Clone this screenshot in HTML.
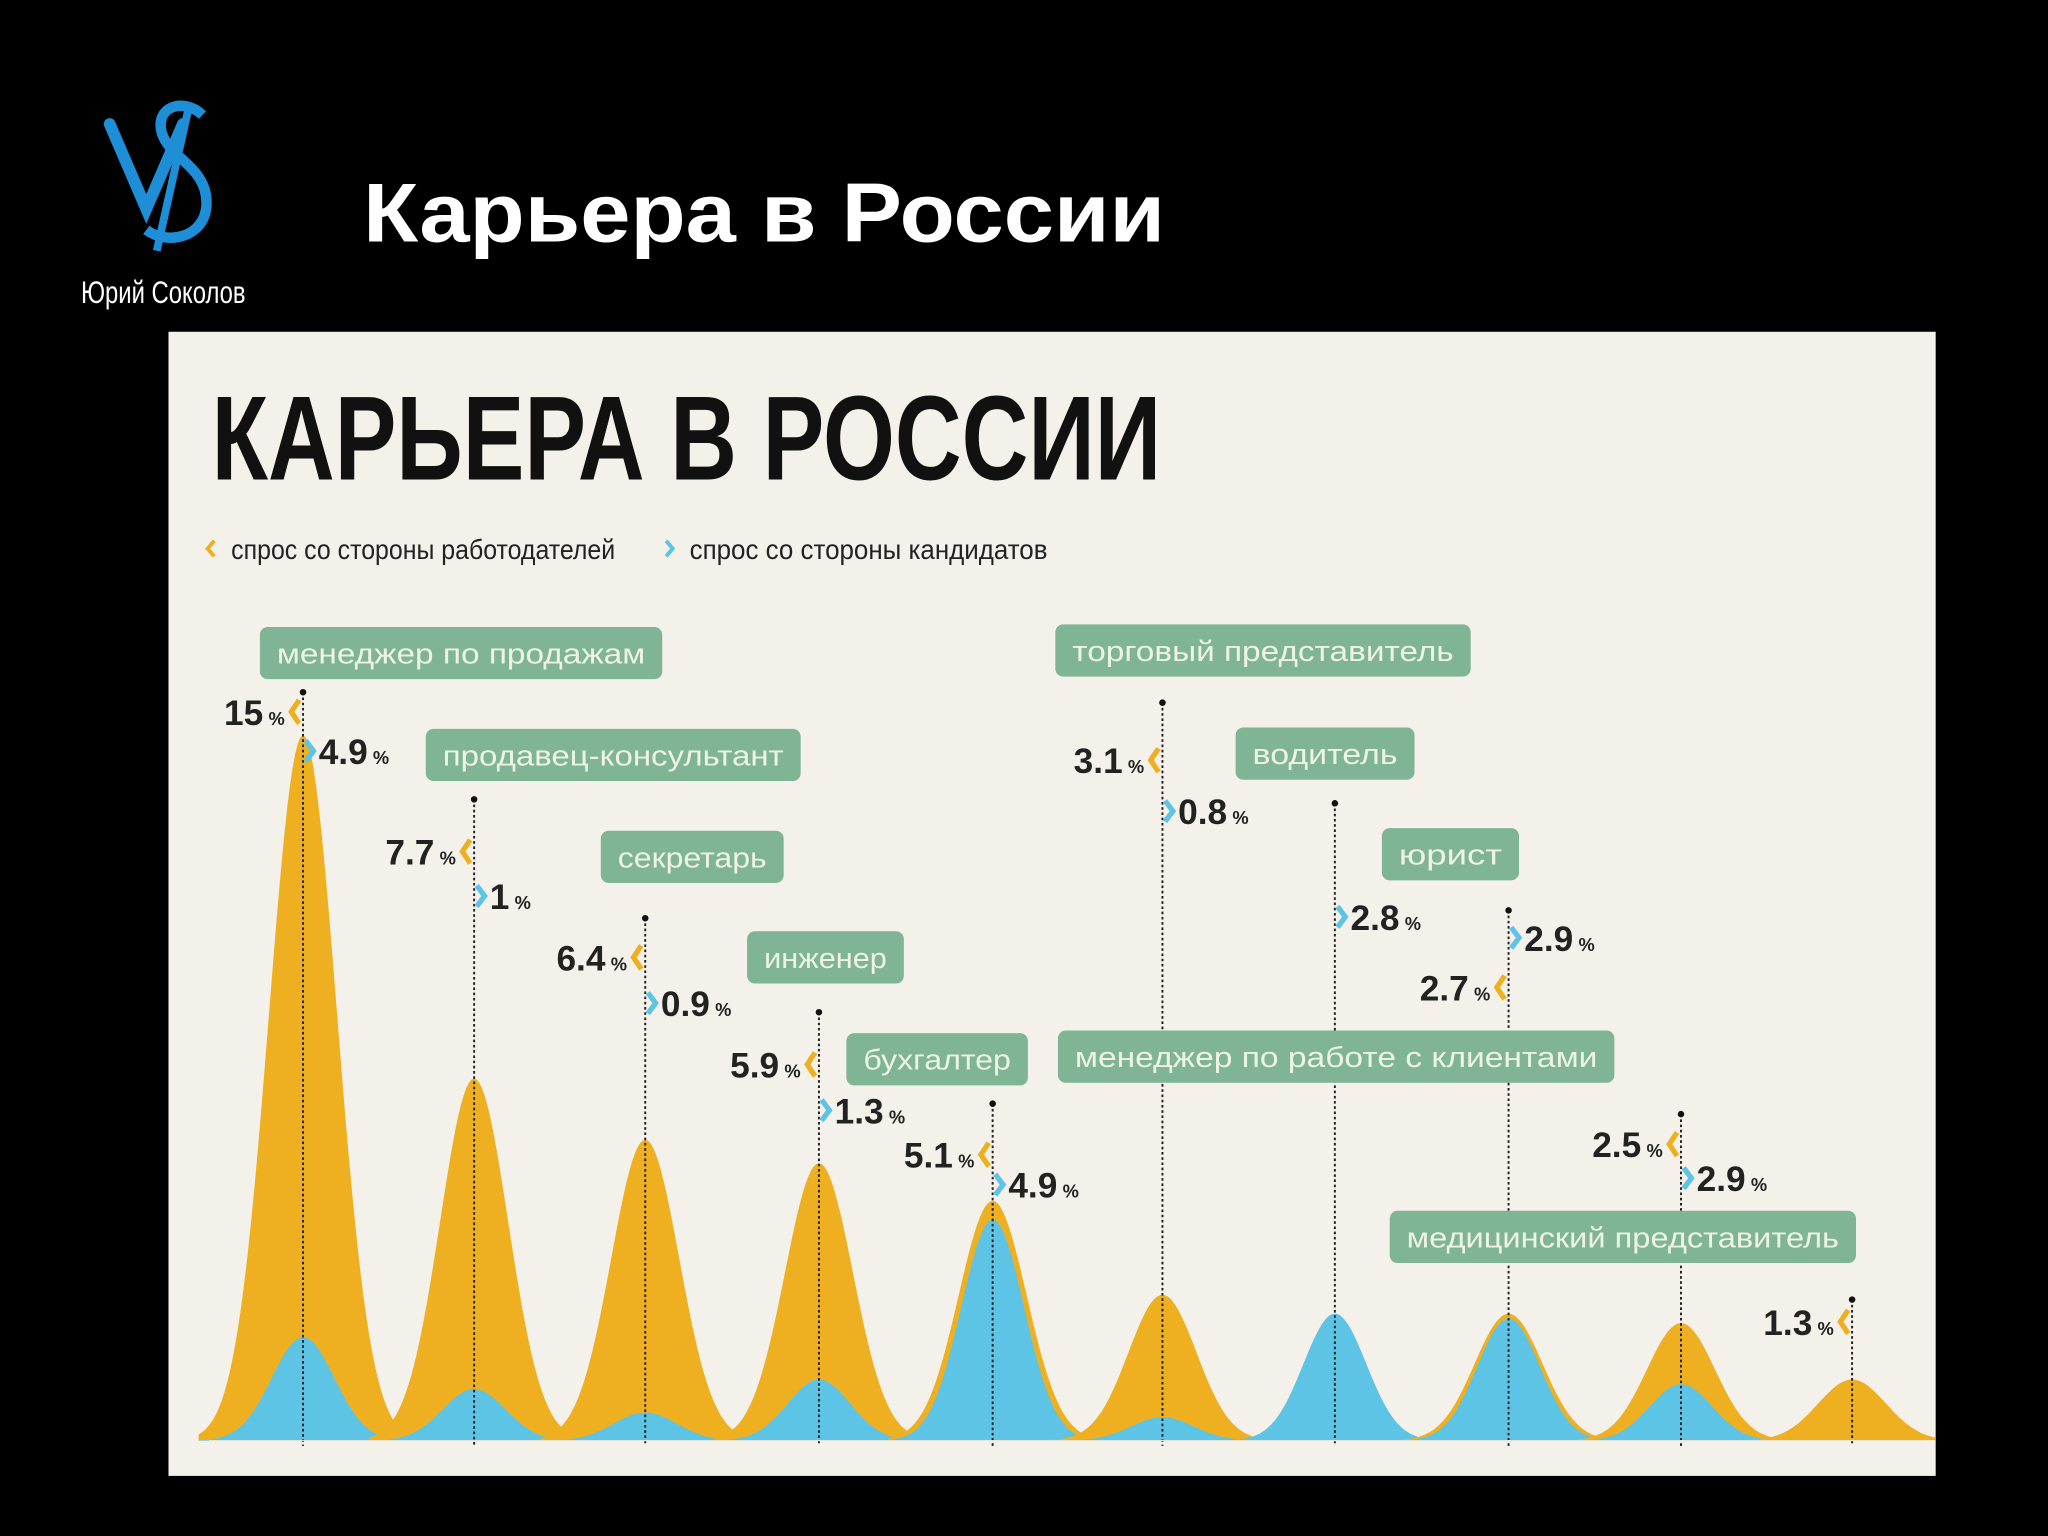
<!DOCTYPE html>
<html><head><meta charset="utf-8">
<style>
html,body{margin:0;padding:0;background:#000;}
svg{display:block;}
text{font-family:"Liberation Sans","DejaVu Sans",sans-serif;}
</style></head>
<body>
<svg id="root" width="2048" height="1536" viewBox="0 0 1568 1176" xmlns="http://www.w3.org/2000/svg">
  <defs><clipPath id="panelClip"><rect x="129" y="254" width="1353" height="876"/></clipPath></defs>
  <rect width="1568" height="1176" fill="#000"/>
  <g>
    <path d="M84 95 L112 160 L140 95" fill="none" stroke="#1e8fd6" stroke-width="9" stroke-linecap="round"/>
    <path d="M155 88 C140 74 118 82 124 102 C130 122 160 128 158 158 C156 182 128 188 112 176" fill="none" stroke="#1e8fd6" stroke-width="8"/>
    <path d="M145 80 L120 192" stroke="#1e8fd6" stroke-width="6"/>
    <text x="62" y="232" font-size="24" fill="#fff" textLength="126" lengthAdjust="spacingAndGlyphs">Юрий Соколов</text>
  </g>
  <text x="278" y="185" font-size="64" font-weight="bold" fill="#fff" textLength="614" lengthAdjust="spacingAndGlyphs">Карьера в России</text>
  <rect x="129" y="254" width="1353" height="876" fill="#f3f1ea"/>
  <text x="162" y="367" font-size="92" font-weight="bold" fill="#111" textLength="727" lengthAdjust="spacingAndGlyphs">КАРЬЕРА В РОССИИ</text>
  <g>
    <path d="M164 414 L159 420 L164 426" fill="none" stroke="#eeb021" stroke-width="3"/>
    <text x="177" y="428" font-size="21" fill="#222" textLength="294" lengthAdjust="spacingAndGlyphs">спрос со стороны работодателей</text>
    <path d="M510 414 L515 420 L510 426" fill="none" stroke="#5ec4e6" stroke-width="3"/>
    <text x="528" y="428" font-size="21" fill="#222" textLength="274" lengthAdjust="spacingAndGlyphs">спрос со стороны  кандидатов</text>
  </g>
  <g id="chart" clip-path="url(#panelClip)"></g>
</svg>
<script>
// ---- data ----
const categories = ["менеджер по продажам","продавец-консультант","секретарь","инженер","бухгалтер","торговый представитель","водитель","юрист","менеджер по работе с клиентами","медицинский представитель"];
const employerDemand = [15, 7.7, 6.4, 5.9, 5.1, 3.1, 0, 2.7, 2.5, 1.3];
const candidateDemand = [4.9, 1, 0.9, 1.3, 4.9, 0.8, 2.8, 2.9, 2.9, 0];
const candidateShape = [2.2, 1.1, 0.6, 1.3, 4.7, 0.5, 2.7, 2.6, 1.2, 0];
const employerLabels = ["15","7.7","6.4","5.9","5.1","3.1","","2.7","2.5","1.3"];
const candidateLabels = ["4.9","1","0.9","1.3","4.9","0.8","2.8","2.9","2.9",""];
// ---- layout ----
const peakX = [232,363,494,627,760,890,1022,1155,1287,1418];
const poleTop = [530,612,703,775,845,538,615,697,853,995];
const empLabelY = [545,652,733,815,884,582,0,756,876,1012];
const candLabelY = [575,686,768,850,907,621,702,718,902,0];
const tagBoxes = [[199,480,308],[326,558,287],[460,636,140],[572,713,120],[648,791,139],[808,478,318],[946,557,137],[1058,634,105],[810,789,426],[1064,927,357]];
const BASE = 1103, UNIT = 36, SIG = 25;
const y = v => BASE - v * UNIT;
const NS = "http://www.w3.org/2000/svg";
const chart = document.getElementById("chart");
function mk(tag, attrs, parent){const e=document.createElementNS(NS,tag);for(const k in attrs)e.setAttribute(k,attrs[k]);(parent||chart).appendChild(e);return e;}
function bell(cx, v, s){
  const h = BASE - y(v);
  let d = "M"+(cx-80)+" "+BASE;
  for(let dx=-80; dx<=80; dx+=2){ d += " L"+(cx+dx)+" "+(BASE - h*Math.exp(-dx*dx/(2*s*s))).toFixed(1); }
  return d + " Z";
}
categories.forEach((c,i)=>{
  const cx = peakX[i];
  if(employerDemand[i]>0){
    const p = mk("path",{d:bell(cx,employerDemand[i],SIG+1),fill:"#eeb021"});
    
    
  }
  if(candidateShape[i]>0){
    const p = mk("path",{d:bell(cx,candidateShape[i],SIG-1),fill:"#5ec4e6"});
    
    
  }
  const ln = mk("line",{x1:cx,y1:poleTop[i],x2:cx,y2:BASE+4,stroke:"#222","stroke-width":1.5,"stroke-dasharray":"2 2"});
  
  
  const dot = mk("circle",{cx:cx,cy:poleTop[i],r:2.5,fill:"#111"});
  
  
  if(employerLabels[i]){
    const ly = empLabelY[i];
    const a = mk("path",{d:`M${cx-3} ${ly-9} L${cx-9} ${ly} L${cx-3} ${ly+9}`,fill:"none",stroke:"#eeb021","stroke-width":4});
    
    
    const t = mk("text",{x:cx-14,y:ly+10,"text-anchor":"end","font-size":27,"font-weight":"bold",fill:"#222"});
    
    
    t.innerHTML = employerLabels[i]+'<tspan font-size="14" dx="4">%</tspan>';
  }
  if(candidateLabels[i]){
    const ly = candLabelY[i];
    const a = mk("path",{d:`M${cx+2} ${ly-8} L${cx+8} ${ly} L${cx+2} ${ly+8}`,fill:"none",stroke:"#5ec4e6","stroke-width":4});
    
    
    const t = mk("text",{x:cx+12,y:ly+10,"font-size":27,"font-weight":"bold",fill:"#222"});
    
    
    t.innerHTML = candidateLabels[i]+'<tspan font-size="14" dx="4">%</tspan>';
  }
  const b = tagBoxes[i];
  const r = mk("rect",{x:b[0],y:b[1],width:b[2],height:40,rx:6,fill:"#7fb494"});
  
  
  const tt = mk("text",{x:b[0]+b[2]/2,y:b[1]+28,"text-anchor":"middle","font-size":22,fill:"#eef3e6",textLength:b[2]-26,lengthAdjust:"spacingAndGlyphs"});
  
  
  tt.textContent = c;
});
const baseLine = mk("line",{x1:160,y1:BASE,x2:1472,y2:BASE,stroke:"#e8e4d8","stroke-width":1});


</script>
</body></html>
